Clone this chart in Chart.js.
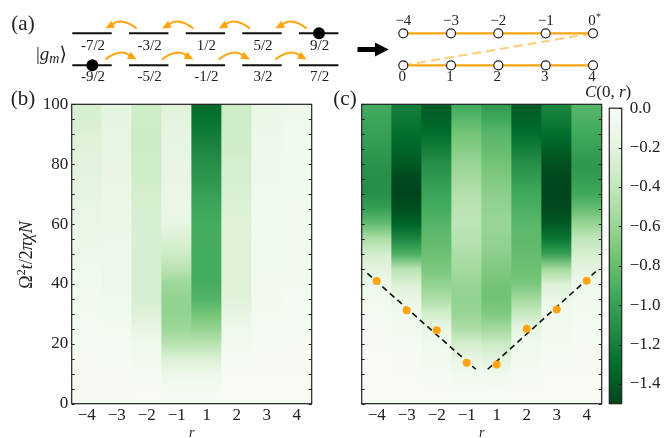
<!DOCTYPE html>
<html>
<head>
<meta charset="utf-8">
<script src="https://cdn.jsdelivr.net/npm/chart.js@4"></script>
<style>
  body { margin: 0; background: #fff; }
  canvas { position: absolute; }
</style>
</head>
<body>
<canvas id="panelB" width="330" height="348" style="left:0px;top:90px"></canvas>
<canvas id="panelC" width="280" height="348" style="left:330px;top:90px"></canvas>
<canvas id="colorbar" width="64" height="348" style="left:600px;top:90px"></canvas>
<canvas id="panelA" width="664" height="104" style="left:0px;top:0px"></canvas>
<script>
const serif = 'Liberation Serif'
const ink = '#222'
const orange = '#ffa514'

// heatmap data
const rLabels = ['−4', '−3', '−2', '−1', '1', '2', '3', '4']
const times = [0, 5, 10, 15, 20, 25, 30, 35, 40, 45, 50, 55, 60, 65, 70, 75, 80, 85, 90, 95, 100]

const bM4 = [-.02, -.02, -.02, -.02, -.03, -.03, -.04, -.05, -.06, -.08, -.1, -.12, -.14, -.16, -.18, -.2, -.2, -.22, -.24, -.27, -.28]
const bM3 = [-.02, -.02, -.02, -.03, -.03, -.04, -.06, -.08, -.1, -.1, -.11, -.11, -.12, -.13, -.14, -.15, -.16, -.17, -.17, -.18, -.18]
const bM2 = [-.01, -.02, -.03, -.05, -.08, -.15, -.24, -.28, -.29, -.29, -.28, -.27, -.27, -.28, -.3, -.32, -.33, -.34, -.34, -.33, -.33]
const bM1 = [-.01, -.04, -.1, -.25, -.45, -.58, -.62, -.62, -.58, -.45, -.33, -.25, -.17, -.14, -.14, -.15, -.16, -.17, -.18, -.2, -.22]
const bP1 = [-.01, -.04, -.1, -.25, -.45, -.62, -.75, -.88, -.92, -.93, -.93, -.92, -.93, -.96, -1, -1.06, -1.1, -1.16, -1.22, -1.27, -1.32]
const bP2 = [-.01, -.01, -.02, -.03, -.05, -.09, -.17, -.22, -.24, -.24, -.24, -.24, -.24, -.25, -.26, -.28, -.29, -.31, -.32, -.33, -.33]
const bP3 = [-.01, -.01, -.02, -.02, -.03, -.03, -.04, -.05, -.05, -.06, -.06, -.06, -.07, -.08, -.08, -.09, -.09, -.1, -.11, -.12, -.13]
const bP4 = [-.01, -.01, -.02, -.02, -.02, -.03, -.03, -.03, -.04, -.04, -.04, -.05, -.05, -.05, -.06, -.06, -.07, -.08, -.08, -.09, -.1]

const cM4 = [-.01, -.01, -.01, -.01, -.02, -.02, -.03, -.05, -.1, -.2, -.3, -.5, -.8, -1, -1.1, -1.1, -1.08, -1.04, -1, -.97, -.93]
const cM3 = [-.01, -.01, -.02, -.02, -.03, -.05, -.08, -.13, -.25, -.45, -.9, -1.15, -1.35, -1.45, -1.5, -1.48, -1.4, -1.35, -1.3, -1.25, -1.2]
const cM2 = [-.01, -.02, -.03, -.05, -.08, -.15, -.3, -.5, -.62, -.72, -.78, -.82, -.86, -.92, -.98, -1.04, -1.1, -1.2, -1.3, -1.36, -1.4]
const cM1 = [-.01, -.03, -.06, -.15, -.3, -.5, -.6, -.62, -.6, -.55, -.5, -.46, -.43, -.44, -.48, -.54, -.6, -.67, -.75, -.85, -.95]
const cP1 = [-.01, -.03, -.08, -.2, -.35, -.55, -.7, -.76, -.75, -.7, -.65, -.62, -.6, -.62, -.65, -.7, -.75, -.8, -.85, -.95, -1.05]
const cP2 = [-.01, -.02, -.03, -.05, -.08, -.17, -.35, -.55, -.72, -.78, -.8, -.83, -.85, -.9, -.95, -1.02, -1.1, -1.2, -1.3, -1.36, -1.4]
const cP3 = [-.01, -.01, -.02, -.03, -.04, -.05, -.07, -.12, -.25, -.55, -1, -1.25, -1.4, -1.47, -1.5, -1.48, -1.45, -1.38, -1.3, -1.22, -1.15]
const cP4 = [-.01, -.01, -.02, -.02, -.02, -.03, -.04, -.05, -.1, -.18, -.28, -.4, -.6, -.8, -.95, -1.02, -1.05, -1, -.95, -.9, -.85]

// front points and fitted lines in panel c, x is the column index
const frontX = [0, 1, 2, 3, 4, 5, 6, 7]
const frontT = [41, 31.2, 24.5, 13.7, 13.1, 25, 31.5, 41.1]
const fitLeftX = [-0.31, 3.3]
const fitLeftT = [43.5, 11.5]
const fitRightX = [3.7, 7.3]
const fitRightT = [11.5, 44.1]

// colorbar
const cbTicks = [0, -0.2, -0.4, -0.6, -0.8, -1, -1.2, -1.4]
const cbValues = [0, -0.1875, -0.375, -0.5625, -0.75, -0.9375, -1.125, -1.3125, -1.5]
const greens = ['#f7fcf5', '#e5f5e0', '#c7e9c0', '#a1d99b', '#74c476', '#41ab5d', '#238b45', '#006d2c', '#00441b']

// schematic (a)
const levelX = [72.3, 129, 185.7, 242.3, 299]
const levelW = 39.4
const levelTopY = 33.3
const levelBotY = 65.3
const topSpins = ['-7/2', '-3/2', '1/2', '5/2', '9/2']
const botSpins = ['-9/2', '-5/2', '-1/2', '3/2', '7/2']
const chainX = [403.3, 451, 498.3, 545.7, 593]
const chainTop = ['−4', '−3', '−2', '−1', '0']
const chainBot = ['0', '1', '2', '3', '4']

function colorOf(v) {
    const t = Math.min(Math.max(-v / 1.5, 0), 1) * (greens.length - 1)
    const i = Math.min(Math.floor(t), greens.length - 2)
    const a = parseInt(greens[i].slice(1), 16)
    const b = parseInt(greens[i + 1].slice(1), 16)
    const f = t - i
    const mix = s => Math.round(((a >> s) & 255) * (1 - f) + ((b >> s) & 255) * f)
    return `rgb(${mix(16)},${mix(8)},${mix(0)})`
}

function columnFill(columns) {
    return ctx => {
        const chart = ctx.chart
        if (!chart.chartArea) return '#fff'
        const y = chart.scales.y
        const g = chart.ctx.createLinearGradient(0, y.getPixelForValue(0), 0, y.getPixelForValue(100))
        columns[ctx.dataIndex].forEach((v, i) => g.addColorStop(times[i] / 100, colorOf(v)))
        return g
    }
}

function drawRuns(ctx, runs, x, y, align) {
    let total = 0
    runs.forEach(r => { ctx.font = r[1]; total += ctx.measureText(r[0]).width })
    let cx = align === 'center' ? x - total / 2 : x
    ctx.fillStyle = ink
    ctx.textAlign = 'left'
    ctx.textBaseline = 'alphabetic'
    runs.forEach(r => {
        ctx.font = r[1]
        ctx.fillText(r[0], cx, y + (r[2] || 0))
        cx += ctx.measureText(r[0]).width
    })
}

function label(ctx, text, x, y, size) {
    ctx.font = `${size}px "${serif}"`
    ctx.fillStyle = ink
    ctx.textAlign = 'center'
    ctx.textBaseline = 'middle'
    ctx.fillText(text, x, y)
}

// frame and short inward ticks like the original axes
const framePlugin = {
    id: 'frame',
    afterDatasetsDraw(chart) {
        const { ctx, chartArea: a, scales } = chart
        ctx.save()
        ctx.strokeStyle = ink
        ctx.lineWidth = 1.2
        ctx.strokeRect(a.left, a.top, a.right - a.left, a.bottom - a.top)
        const both = chart.canvas.id !== 'colorbar'
        ctx.lineWidth = 1
        ctx.beginPath()
        scales.y.ticks.forEach(t => {
            const py = Math.round(scales.y.getPixelForValue(t.value)) + 0.5
            if (both) {
                ctx.moveTo(a.left, py)
                ctx.lineTo(a.left + 3, py)
            }
            ctx.moveTo(a.right, py)
            ctx.lineTo(a.right - 3, py)
        })
        ctx.stroke()
        ctx.restore()
    }
}

function heatOptions(left, right, yLabels) {
    return {
        responsive: false,
        animation: false,
        layout: { autoPadding: false, padding: { top: 14.3, right: right } },
        plugins: { legend: { display: false }, tooltip: { enabled: false } },
        scales: {
            x: {
                grid: { display: false, drawTicks: false },
                border: { display: false },
                ticks: { color: ink, padding: 2, font: { family: serif, size: 17 } },
                title: { display: true, text: 'r', color: ink, padding: { top: 0, bottom: -4 }, font: { family: serif, size: 14, style: 'italic' } },
                afterFit: s => { s.height = 34.3 }
            },
            y: {
                min: 0,
                max: 100,
                grid: { display: false, drawTicks: false },
                border: { display: false },
                ticks: {
                    color: ink,
                    padding: 3.5,
                    stepSize: 5,
                    autoSkip: false,
                    font: { family: serif, size: 17 },
                    callback: v => (yLabels && v % 20 === 0 ? v : '')
                },
                afterFit: s => { s.width = left }
            }
        }
    }
}

function heatBars(columns) {
    return {
        type: 'bar',
        order: 3,
        grouped: false,
        data: rLabels.map(() => 100),
        backgroundColor: columnFill(columns),
        barPercentage: 1,
        categoryPercentage: 1
    }
}

new Chart('panelB', {
    type: 'bar',
    data: {
        labels: rLabels,
        datasets: [heatBars([bM4, bM3, bM2, bM1, bP1, bP2, bP3, bP4])]
    },
    options: heatOptions(71.7, 18.3, true),
    plugins: [framePlugin, {
        id: 'textB',
        afterDraw(chart) {
            const ctx = chart.ctx
            label(ctx, '(b)', 23, 9, 21)
            ctx.save()
            ctx.translate(32, 165)
            ctx.rotate(-Math.PI / 2)
            const up = `18px "${serif}"`
            const it = `italic 18px "${serif}"`
            drawRuns(ctx, [['Ω', up], ['2', `12px "${serif}"`, -7], ['t', it], ['/2', up], ['πχN', it]], 0, 0, 'center')
            ctx.restore()
        }
    }]
})

new Chart('panelC', {
    type: 'bar',
    data: {
        labels: rLabels,
        datasets: [
            heatBars([cM4, cM3, cM2, cM1, cP1, cP2, cP3, cP4]),
            {
                type: 'scatter',
                order: 2,
                xAxisID: 'xPos',
                data: fitLeftX.map((x, i) => ({ x, y: fitLeftT[i] })),
                showLine: true,
                borderColor: '#111',
                borderWidth: 1.6,
                borderDash: [6, 4],
                pointRadius: 0
            },
            {
                type: 'scatter',
                order: 2,
                xAxisID: 'xPos',
                data: fitRightX.map((x, i) => ({ x, y: fitRightT[i] })),
                showLine: true,
                borderColor: '#111',
                borderWidth: 1.6,
                borderDash: [6, 4],
                pointRadius: 0
            },
            {
                type: 'scatter',
                order: 1,
                xAxisID: 'xPos',
                data: frontX.map((x, i) => ({ x, y: frontT[i] })),
                backgroundColor: orange,
                borderWidth: 0,
                pointRadius: 4
            }
        ]
    },
    options: (() => {
        const o = heatOptions(31.7, 8.3, false)
        o.scales.xPos = { type: 'linear', display: false, offset: false, min: -0.5, max: 7.5 }
        return o
    })(),
    plugins: [framePlugin, {
        id: 'textC',
        afterDraw(chart) {
            label(chart.ctx, '(c)', 15, 9, 21)
        }
    }]
})

new Chart('colorbar', {
    type: 'bar',
    data: {
        labels: ['C'],
        datasets: [{
            data: [cbValues[cbValues.length - 1]],
            barPercentage: 1,
            categoryPercentage: 1,
            backgroundColor: ctx => {
                const chart = ctx.chart
                if (!chart.chartArea) return '#fff'
                const y = chart.scales.y
                const g = chart.ctx.createLinearGradient(0, y.getPixelForValue(0), 0, y.getPixelForValue(-1.5))
                cbValues.forEach((v, i) => g.addColorStop(i / (cbValues.length - 1), greens[i]))
                return g
            }
        }]
    },
    options: {
        responsive: false,
        animation: false,
        layout: { autoPadding: false, padding: { top: 14.3, left: 9.3, bottom: 34.3 } },
        plugins: { legend: { display: false }, tooltip: { enabled: false } },
        scales: {
            x: { display: false },
            y: {
                position: 'right',
                min: -1.5,
                max: 0,
                grid: { display: false, drawTicks: false },
                border: { display: false },
                afterBuildTicks: s => { s.ticks = cbTicks.map(value => ({ value })) },
                ticks: {
                    color: ink,
                    padding: 8,
                    autoSkip: false,
                    font: { family: serif, size: 17 },
                    callback: v => v.toFixed(1).replace('-', '−')
                },
                afterFit: s => { s.width = 42.3 }
            }
        }
    },
    plugins: [framePlugin]
})

// the schematic on top, hidden pixel-like scales
function levelSegments(y) {
    const pts = []
    levelX.forEach(x => {
        pts.push({ x, y }, { x: x + levelW, y }, { x: x + levelW, y: null })
    })
    return pts
}

function curvedArrow(ctx, x0, y0, x1, y1) {
    const dir = Math.sign(x1 - x0)
    const ax = dir * Math.cos(0.5)
    const ay = Math.sin(0.5)
    ctx.strokeStyle = orange
    ctx.fillStyle = orange
    ctx.lineWidth = 2
    ctx.beginPath()
    ctx.moveTo(x0, y0)
    ctx.quadraticCurveTo((x0 + x1) / 2, y0 - 12, x1 - ax * 7, y1 - ay * 7)
    ctx.stroke()
    ctx.beginPath()
    ctx.moveTo(x1, y1)
    ctx.lineTo(x1 - ax * 9 - ay * 4, y1 - ay * 9 + ax * 4)
    ctx.lineTo(x1 - ax * 9 + ay * 4, y1 - ay * 9 - ax * 4)
    ctx.closePath()
    ctx.fill()
}

new Chart('panelA', {
    type: 'scatter',
    data: {
        datasets: [
            {
                order: 1,
                data: levelSegments(levelTopY).concat(levelSegments(levelBotY)),
                showLine: true,
                spanGaps: false,
                borderColor: '#111',
                borderWidth: 2,
                pointRadius: 0
            },
            {
                order: 0,
                data: [{ x: levelX[4] + 20, y: levelTopY }, { x: levelX[0] + 20, y: levelBotY }],
                backgroundColor: '#000',
                pointRadius: 6,
                borderWidth: 0
            },
            {
                order: 2,
                data: [{ x: chainX[0], y: levelBotY }, { x: chainX[4], y: levelTopY }],
                showLine: true,
                borderColor: '#ffd083',
                borderWidth: 2.2,
                borderDash: [9, 5],
                pointRadius: 0
            },
            {
                order: 1,
                data: chainX.map(x => ({ x, y: levelTopY })),
                showLine: true,
                borderColor: orange,
                borderWidth: 2.2,
                pointRadius: 0
            },
            {
                order: 1,
                data: chainX.map(x => ({ x, y: levelBotY })),
                showLine: true,
                borderColor: orange,
                borderWidth: 2.2,
                pointRadius: 0
            },
            {
                order: 0,
                data: chainX.flatMap(x => [{ x, y: levelTopY }, { x, y: levelBotY }]),
                backgroundColor: '#fff',
                borderColor: ink,
                borderWidth: 1.2,
                pointRadius: 4.5
            }
        ]
    },
    options: {
        responsive: false,
        animation: false,
        layout: { autoPadding: false, padding: 0 },
        plugins: { legend: { display: false }, tooltip: { enabled: false } },
        scales: {
            x: { type: 'linear', display: false, min: 0, max: 664 },
            y: { type: 'linear', display: false, min: 0, max: 104, reverse: true }
        }
    },
    plugins: [{
        id: 'schematic',
        afterDraw(chart) {
            const ctx = chart.ctx
            ctx.save()
            for (let i = 0; i < 4; i++) {
                curvedArrow(ctx, levelX[i + 1] + 7.7, 28.5, levelX[i] + 33, 28.5)
                curvedArrow(ctx, levelX[i] + 33, 59.5, levelX[i + 1] + 7.7, 59.5)
            }
            ctx.fillStyle = '#000'
            ctx.beginPath()
            ctx.moveTo(357.5, 47)
            ctx.lineTo(375, 47)
            ctx.lineTo(375, 42.5)
            ctx.lineTo(388.7, 49.5)
            ctx.lineTo(375, 56.5)
            ctx.lineTo(375, 52)
            ctx.lineTo(357.5, 52)
            ctx.closePath()
            ctx.fill()

            topSpins.forEach((s, i) => label(ctx, s, levelX[i] + levelW / 2 + 1, 46, 15))
            botSpins.forEach((s, i) => label(ctx, s, levelX[i] + levelW / 2 + 1, 77.5, 15))
            chainTop.forEach((s, i) => label(ctx, s, chainX[i] + (i < 4 ? 0 : -1), 21.5, 15))
            chainBot.forEach((s, i) => label(ctx, s, chainX[i] - 1, 77.5, 15))
            drawRuns(ctx, [['*', `10px "${serif}"`]], 596, 20)

            label(ctx, '(a)', 23, 24, 21)
            const it = `italic 19px "${serif}"`
            drawRuns(ctx, [['|', `19px "${serif}"`], ['g', it], ['m', `italic 14px "${serif}"`, 3], ['⟩', `19px "DejaVu Serif"`]], 36, 60)
            drawRuns(ctx, [['C', `italic 17px "${serif}"`], ['(0, ', `17px "${serif}"`], ['r', `italic 17px "${serif}"`], [')', `17px "${serif}"`]], 585, 97)
            ctx.restore()
        }
    }]
})
</script>
</body>
</html>
